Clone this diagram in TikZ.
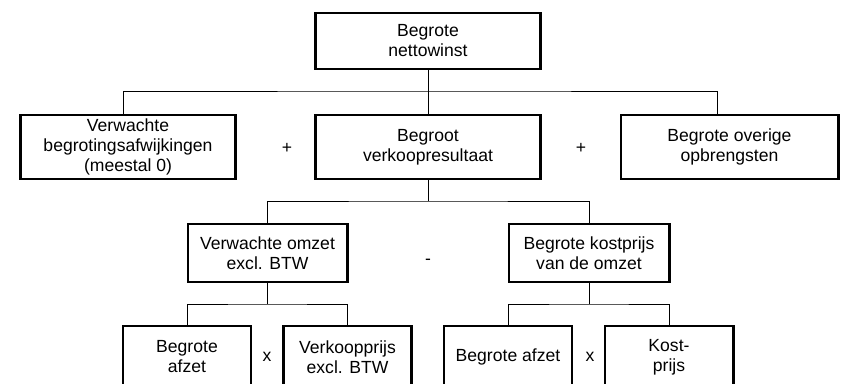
\documentclass[tikz,border=0pt]{standalone}
\usepackage{fontspec}
\setmainfont{Liberation Sans}
\usetikzlibrary{calc,positioning}

\tikzset{
  blok/.style={draw, line width=2.1pt, align=center, inner sep=0pt,
    font=\fontsize{12.5}{14.2}\selectfont},
  teken/.style={font=\fontsize{12.5}{14.2}\selectfont},
  lijn/.style={line width=0.7pt}
}

\begin{document}
\begin{tikzpicture}[x=0.025cm,y=-0.025cm]
\useasboundingbox (0,0) rectangle (849,383);
\clip (0,0) rectangle (849,383);

% niveau 1
\node[blok, minimum width=5.6cm, minimum height=1.4cm] (netto) at (428,41) {Begrote\\nettowinst};

% niveau 2
\node[blok, minimum width=5.35cm, minimum height=1.6cm] (afwijk) at (128,147) {Verwachte\\begrotingsafwijkingen\\(meestal 0)};
\node[blok, minimum width=5.6cm, minimum height=1.6cm] (verkoop) at (428,147) {Begroot\\verkoopresultaat};
\node[blok, minimum width=5.425cm, minimum height=1.6cm] (overig) at (729.5,147) {Begrote overige\\opbrengsten};
\node[teken] (plus1) at (287,148) {+};
\node[teken] (plus2) at (581,148) {+};

% niveau 3
\node[blok, minimum width=3.975cm, minimum height=1.45cm] (omzet) at (267.5,253) {Verwachte omzet\\excl. BTW};
\node[blok, minimum width=4cm, minimum height=1.45cm] (kostprijs) at (589,253) {Begrote kostprijs\\van de omzet};
\node[teken] (min) at (428,262) {-};

% niveau 4
\node[blok, minimum width=3.2cm, minimum height=1.55cm] (afzetA) at (187,357) {Begrote\\afzet};
\node[blok, minimum width=3.2cm, minimum height=1.55cm] (vkprijs) at (347.5,357) {Verkoopprijs\\excl. BTW};
\node[blok, minimum width=3.2cm, minimum height=1.55cm] (afzetB) at (508,357) {Begrote afzet};
\node[blok, minimum width=3.2cm, minimum height=1.55cm] (kprijs) at (669,357) {Kost-\\prijs};
\node[teken] (maal1) at (267,357) {x};
\node[teken] (maal2) at (590,357) {x};

% verbindingen
\coordinate (s1) at (428,91);
\coordinate (s2) at (428,201);
\coordinate (s3) at (267.5,304);
\coordinate (s4) at (589,304);

\draw[lijn] (netto) -- (verkoop);
\draw[lijn] ($(afwijk.north)+(-5,0)$) |- (s1) -| ($(overig.north)+(-12,0)$);

\draw[lijn] (verkoop.south) -- (s2);
\draw[lijn] (omzet.north) |- (s2) -| (kostprijs.north);

\draw[lijn] (omzet.south) -- (s3);
\draw[lijn] (afzetA.north) |- (s3) -| (vkprijs.north);

\draw[lijn] (kostprijs.south) -- (s4);
\draw[lijn] (afzetB.north) |- (s4) -| (kprijs.north);

\end{tikzpicture}
\end{document}
